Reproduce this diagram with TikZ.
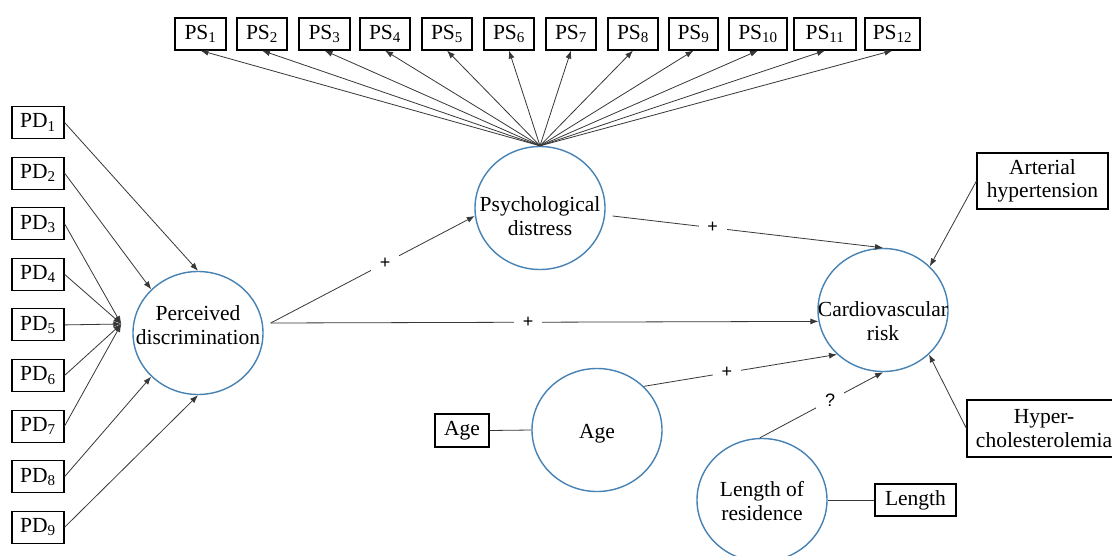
\documentclass[tikz,border=0pt]{standalone}
\usepackage{fontspec}
\setmainfont{Liberation Serif}
\newfontfamily\lblfont{Liberation Sans}
\usetikzlibrary{shapes.geometric,arrows.meta,calc}
\definecolor{cblue}{RGB}{70,130,180}
\definecolor{lgray}{RGB}{55,55,55}
\begin{document}
\begin{tikzpicture}[x=1pt,y=-1pt,
  box/.style={draw=black,line width=1.1pt,minimum width=50pt,minimum height=32pt,inner sep=2pt,align=center,font=\fontsize{21.5}{23.5}\selectfont},
  lat/.style={ellipse,draw=cblue,line width=1.4pt,minimum width=130pt,minimum height=123pt,inner sep=0pt},
  lattext/.style={align=center,font=\fontsize{21.5}{23.5}\selectfont,inner sep=0pt},
  conn/.style={draw=lgray,line width=0.8pt,-{Latex[length=8pt,width=6pt]}},
  link/.style={draw=lgray,line width=0.8pt},
  lbl/.style={fill=white,font=\lblfont\fontsize{18}{20}\selectfont,inner sep=0pt,minimum width=28pt,minimum height=30pt}]
\useasboundingbox[fill=white] (0,0) rectangle (1112,555);

% latent variables
\node[lat] (pdc) at (198,333) {};
\node[lattext] (pdct) at (198,325) {Perceived\\discrimination};
\node[lat] (psd) at (540,208) {};
\node[lattext] (psdt) at (540,216) {Psychological\\distress};
\node[lat] (cr) at (883,310) {};
\node[lattext] (crt) at (883,321) {Cardiovascular\\risk};
\node[lat] (age) at (597,430) {};
\node[lattext] (aget) at (597,434) {Age};
\node[lat] (len) at (762,500) {};
\node[lattext] (lent) at (762,501) {Length of\\residence};

% PS indicators
\foreach \i/\x/\w in {1/200.5/51,2/262/50,3/324.5/51,4/385/50,5/447/50,6/509/50,7/571/50,8/633/50,9/693.5/49,10/758/58,11/825/62,12/892.5/55}{
  \node[box,minimum width=\w pt] (ps\i) at (\x,34) {PS\textsubscript{\i}};
  \draw[conn] (psd.north) -- (ps\i.south);
}

% PD indicators
\foreach \i in {1,...,9}{
  \node[box,minimum width=52pt] (pd\i) at (38,{122.5+50.6*(\i-1)}) {PD\textsubscript{\i}};
}
\coordinate (pdm) at ($(pdc.west)+(-11,-9)$);
\draw[conn] (pd1.east) -- (pdc.north);
\draw[conn] (pd2.east) -- (pdc.137);
\foreach \i in {3,...,7}{
  \draw[conn] (pd\i.east) -- (pdm);
}
\draw[conn] (pd8.east) -- (pdc.223);
\draw[conn] (pd9.east) -- (pdc.south);

% observed covariates
\node[box,minimum width=131pt,minimum height=56pt] (ah) at (1042.5,181) {Arterial\\hypertension};
\node[box,minimum width=154pt,minimum height=57pt] (hc) at (1044,428.5) {Hyper-\\cholesterolemia};
\node[box,minimum width=54pt,minimum height=33pt] (ageb) at (462,430.5) {Age};
\node[box,minimum width=81pt,minimum height=32pt] (lenb) at (915.5,500) {Length};

% structural paths
\coordinate (pdo) at ($(pdc.east)+(7,-10)$);
\coordinate (psdo) at ($(psd.east)+(7,8)$);
\draw[conn] (pdo) -- node[lbl,pos=0.56] {+} (psd.187);
\draw[conn] (pdo) -- node[lbl,pos=0.47] {+} (cr.190);
\draw[conn] (psdo) -- node[lbl,pos=0.37] {+} (cr.north);
\draw[conn] (age.43) -- node[lbl,pos=0.43] {+} (cr.224);
\draw[conn] (len.92) -- node[lbl,pos=0.57] {?} (cr.south);
\draw[conn] (ah.west) -- (cr.43);
\draw[conn] (hc.west) -- (cr.-44);
\draw[link] (ageb.east) -- (age.west);
\draw[link] (len.east) -- (lenb.west);
\end{tikzpicture}
\end{document}
